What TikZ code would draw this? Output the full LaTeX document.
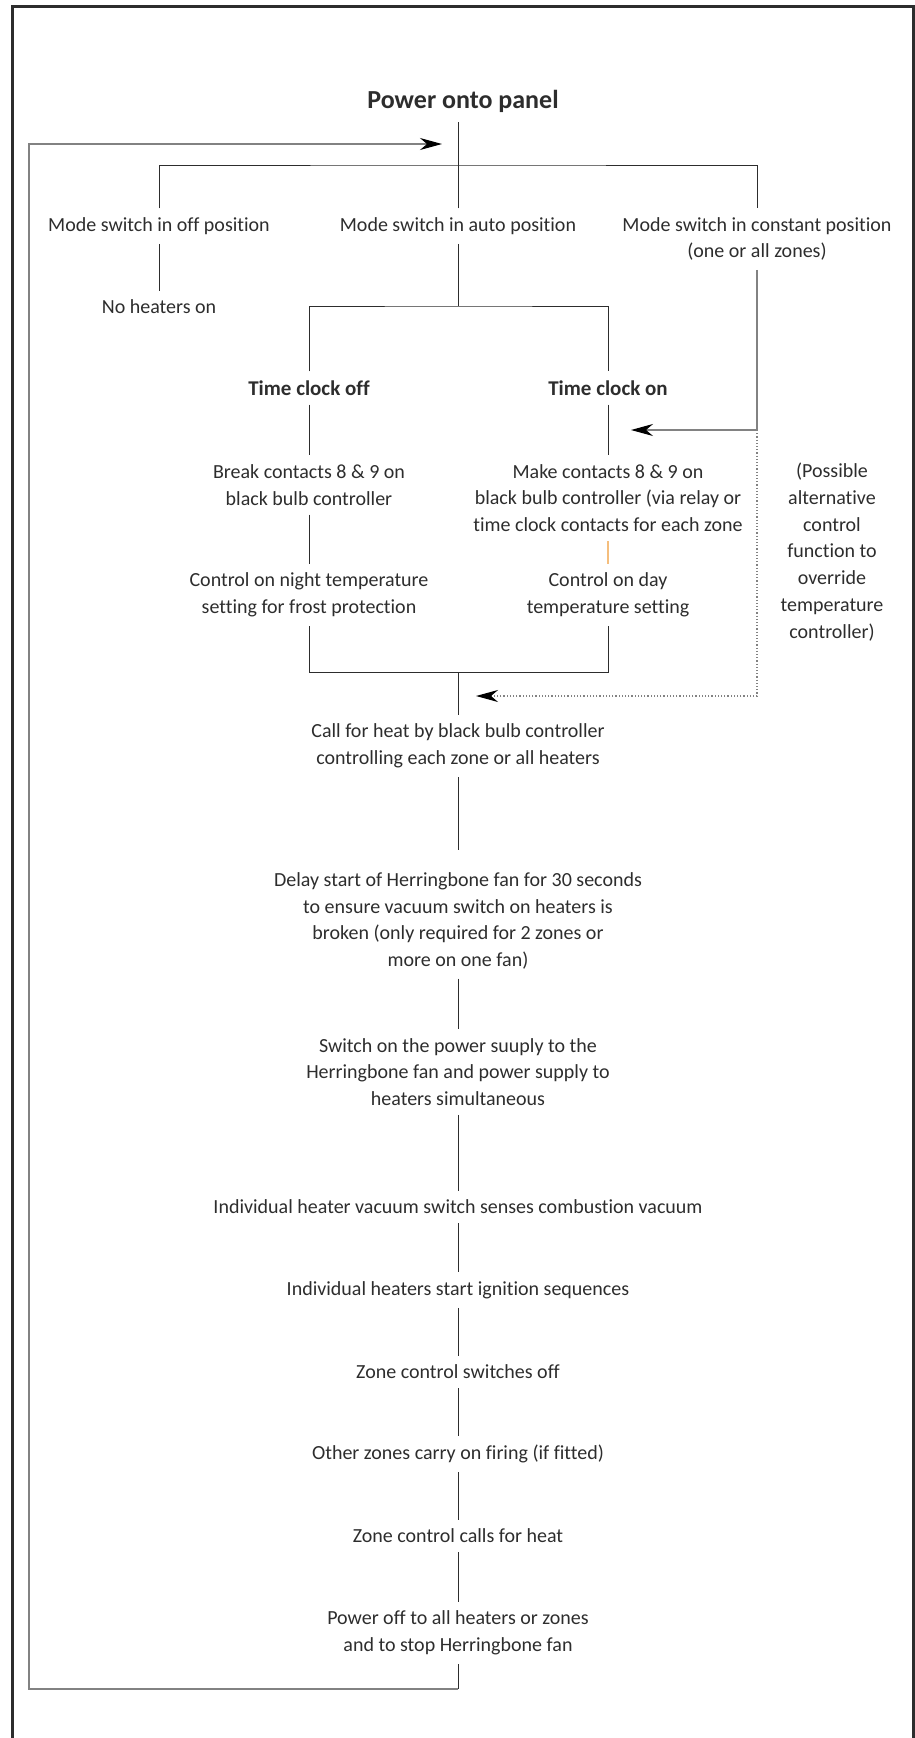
\documentclass[tikz,border=0pt]{standalone}
\usepackage{fontspec}
\setmainfont[Ligatures=NoCommon]{Carlito}
\usetikzlibrary{arrows.meta, positioning, calc}
\definecolor{inkgray}{RGB}{45,45,45}
\definecolor{feedgray}{RGB}{130,130,130}
\definecolor{lightorange}{RGB}{245,190,125}

\tikzset{
  lbl/.style={font=\fontsize{20}{26.7}\selectfont, text=inkgray, align=center, inner xsep=0pt, inner ysep=9pt},
  hd/.style={lbl, font=\fontsize{21}{26.7}\selectfont\bfseries},
  wire/.style={inkgray, line width=0.9pt},
  feed/.style={feedgray, line width=1.2pt},
  tip/.style={-{Stealth[length=22pt, width=12pt, inset=7pt, color=black]}},
}

\begin{document}
\begin{tikzpicture}[x=1pt, y=-1pt]
  \useasboundingbox (0,0) rectangle (915,1738);
  % outer frame (bottom edge runs off the page)
  \draw[inkgray, line width=3pt] (12,1760) -- (12,6) -- (913,6) -- (913,1760);

  % Top of the chart
  \node[hd, font=\fontsize{26}{30}\selectfont\bfseries, inner ysep=10pt] (power) at (463,101) {Power onto panel};
  \node[lbl] (offsw) at (159,226) {Mode switch in off position};
  \node[lbl] (autosw) at (458,226) {Mode switch in auto position};
  \node[lbl] (constsw) at (757,239) {Mode switch in constant position\\(one or all zones)};
  \node[lbl] (noheat) at (159,307) {No heaters on};

  % Auto branch
  \node[hd] (tcoff) at (309,388) {Time clock off};
  \node[hd] (tcon) at (608,388) {Time clock on};
  \node[lbl] (brk) at (309,485) {Break contacts 8 \& 9 on\\black bulb controller};
  \node[lbl] (mk) at (608,498) {Make contacts 8 \& 9 on\\black bulb controller (via relay or\\time clock contacts for each zone};
  \node[lbl] (night) at (309,595) {Control on night temperature\\setting for frost protection};
  \node[lbl] (day) at (608,595) {Control on day\\temperature setting};
  \node[lbl] (alt) at (832,552) {(Possible\\alternative\\control\\function to\\override\\temperature\\controller)};

  % Main sequence
  \node[lbl] (call) at (458,746) {Call for heat by black bulb controller\\controlling each zone or all heaters};
  \node[lbl] (delay) at (458,921) {Delay start of Herringbone fan for 30 seconds\\to ensure vacuum switch on heaters is\\broken (only required for 2 zones or\\more on one fan)};
  \node[lbl] (swon) at (458,1072) {Switch on the power suuply to the\\Herringbone fan and power supply to\\heaters simultaneous};
  \node[lbl] (vac) at (458,1207) {Individual heater vacuum switch senses combustion vacuum};
  \node[lbl] (ign) at (458,1290) {Individual heaters start ignition sequences};
  \node[lbl] (zoff) at (458,1372) {Zone control switches off};
  \node[lbl] (other) at (458,1454) {Other zones carry on firing (if fitted)};
  \node[lbl] (zcall) at (458,1536) {Zone control calls for heat};
  \node[lbl] (poff) at (458,1633) {Power off to all heaters or zones\\and to stop Herringbone fan};

  % junction points
  \coordinate (bar) at (458,165);
  \coordinate (fork) at (458,306);
  \coordinate (merge) at (458,672);
  \coordinate (cin) at (631,430);
  \coordinate (din) at (476,696);
  \coordinate (lcorner) at (29,1689);
  \coordinate (rin) at (442,144);

  % mode switch connectors
  \draw[wire] (autosw.north) -- (autosw.north |- power.south);
  \draw[wire] (offsw.north) |- (bar) -| (constsw.north);
  \draw[wire] (offsw.south) -- (noheat.north);
  \draw[wire] (autosw.south) -- (fork);
  \draw[wire] (tcoff.north) |- (fork) -| (tcon.north);
  \draw[wire] (tcoff.south) -- (brk.north);
  \draw[wire] (tcon.south) -- (mk.north);
  \draw[wire] (brk.south) -- (night.north);
  \draw[lightorange, line width=1.2pt] (mk.south) -- (day.north);
  \draw[wire] (night.south) |- (merge) -| (day.south);
  \draw[wire] (merge) -- (call.north);

  % constant position feeds
  \draw[feed, tip] (constsw.south) |- (cin);
  \draw[feed, dotted, tip] (constsw.south |- cin) |- (din);

  % sequence connectors
  \draw[wire, shorten >=13pt] (call.south) -- (delay.north);
  \draw[wire] (delay.south) -- (swon.north);
  \draw[wire] (swon.south) -- (vac.north);
  \draw[wire] (vac.south) -- (ign.north);
  \draw[wire] (ign.south) -- (zoff.north);
  \draw[wire] (zoff.south) -- (other.north);
  \draw[wire] (other.south) -- (zcall.north);
  \draw[wire] (zcall.south) -- (poff.north);

  % return loop
  \draw[wire] (poff.south) -- (poff.south |- lcorner);
  \draw[feed, tip] (poff.south |- lcorner) -- (lcorner) |- (rin);
\end{tikzpicture}
\end{document}
